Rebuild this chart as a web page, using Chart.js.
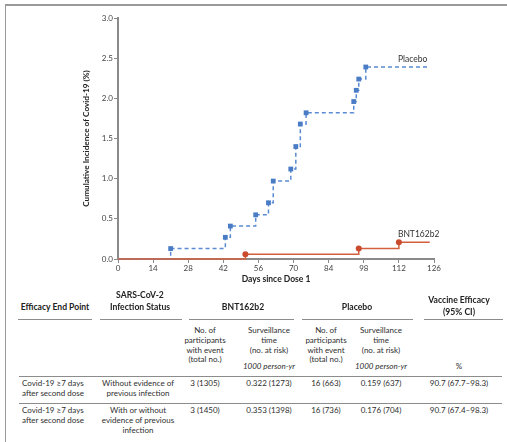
<!DOCTYPE html>
<html><head><meta charset="utf-8">
<script src="https://cdn.jsdelivr.net/npm/chart.js@4"></script>
<style>
body{margin:0;background:#fff;width:507px;height:442px;overflow:hidden;position:relative;font-family:Lato,"Open Sans",sans-serif;color:#2e2e2e}
#frame{position:absolute;left:5px;top:4px;right:0;bottom:-2px;border-top:2px solid #9a9a9a;border-left:1px solid #9a9a9a}
canvas{position:absolute;left:0;top:0}
.t{position:absolute;font-size:8px;line-height:9.8px;white-space:nowrap;text-align:center;transform:translateX(-50%)}
.l{transform:none;text-align:left}
.b{font-weight:bold;color:#222;font-size:8.6px;line-height:12px}
.i{font-style:italic}
.hl{position:absolute;height:1px;background:#8c8c8c}
</style></head><body>
<div id="frame"></div>
<canvas id="c" width="507" height="290"></canvas>
<div id="tbl"></div>
<script>
// ---- chart data ----
const placeboDays = [0, 21, 42.8, 44.8, 54.9, 60, 61.9, 68.9, 70.9, 72.7, 75, 94, 95, 96, 98.8, 124.3];
const placeboIncidence = [0, 0.13, 0.27, 0.41, 0.55, 0.70, 0.97, 1.12, 1.40, 1.68, 1.82, 1.96, 2.10, 2.24, 2.39, 2.39];
const bntDays = [0, 50.8, 96, 112, 124.3];
const bntIncidence = [0, 0.06, 0.13, 0.21, 0.21];
const xTickValues = [0, 14, 28, 42, 56, 70, 84, 98, 112, 126];
const yTickValues = [0, 0.5, 1.0, 1.5, 2.0, 2.5, 3.0];
const seriesNames = ['Placebo', 'BNT162b2'];
const labelDay = 112;

// ---- table data ----
const headCols = ['Efficacy End Point', 'SARS-CoV-2\nInfection Status'];
const groupHeads = ['BNT162b2', 'Placebo', 'Vaccine Efficacy\n(95% CI)'];
const subHeads = ['No. of\nparticipants\nwith event\n(total no.)', 'Surveillance\ntime\n(no. at risk)', 'No. of\nparticipants\nwith event\n(total no.)', 'Surveillance\ntime\n(no. at risk)'];
const unitRow = ['', '1000 person-yr', '', '1000 person-yr', '%'];
const endPoints = ['Covid-19 \u22657 days\nafter second dose', 'Covid-19 \u22657 days\nafter second dose'];
const statuses = ['Without evidence of\nprevious infection', 'With or without\nevidence of previous\ninfection'];
const bntEvents = ['3 (1305)', '3 (1450)'];
const bntTime = ['0.322 (1273)', '0.353 (1398)'];
const plaEvents = ['16 (663)', '16 (736)'];
const plaTime = ['0.159 (637)', '0.176 (704)'];
const efficacy = ['90.7 (67.7\u201398.3)', '90.7 (67.4\u201398.3)'];

const toPts = (xs, ys) => xs.map((x, i) => ({x, y: ys[i]}));
const radii = (n, r) => Array.from({length: n}, (_, i) => (i === 0 || i === n - 1) ? 0 : r);

const endLabels = {
  id: 'endLabels',
  afterDatasetsDraw(chart) {
    const ctx = chart.ctx, xs = chart.scales.x, ys = chart.scales.y;
    ctx.save();
    ctx.font = '8.5px Lato';
    ctx.fillStyle = '#333';
    ctx.textBaseline = 'middle';
    ctx.textAlign = 'left';
    chart.data.datasets.forEach(ds => {
      const last = ds.data[ds.data.length - 1];
      ctx.fillText(ds.label, xs.getPixelForValue(labelDay) - 1, ys.getPixelForValue(last.y) - 8);
    });
    ctx.restore();
  }
};

new Chart(document.getElementById('c'), {
  type: 'line',
  data: {
    datasets: [
      {label: seriesNames[0], data: toPts(placeboDays, placeboIncidence), stepped: 'before',
       borderColor: '#5a8bd2', borderWidth: 1.5, borderDash: [4, 3], backgroundColor: '#4a7cc6',
       pointStyle: 'rect', pointRadius: radii(placeboDays.length, 3.4), pointBorderWidth: 0,
       pointBackgroundColor: '#4a7cc6', clip: 6, order: 2},
      {label: seriesNames[1], data: toPts(bntDays, bntIncidence), stepped: 'before',
       borderColor: '#d2603f', borderWidth: 1.5, backgroundColor: '#c94a2d',
       pointStyle: 'circle', pointRadius: radii(bntDays.length, 3), pointBorderWidth: 0,
       pointBackgroundColor: '#c94a2d', clip: 6, order: 1}
    ]
  },
  options: {
    responsive: false, animation: false, devicePixelRatio: 1,
    layout: {padding: {left: 0, right: 73, top: 18, bottom: 0}},
    plugins: {legend: {display: false}, tooltip: {enabled: false}},
    scales: {
      x: {
        type: 'linear', min: 0, max: 126,
        afterBuildTicks: s => { s.ticks = xTickValues.map(v => ({value: v})); },
        afterFit: s => { s.height = 31; s.paddingLeft = 0; s.paddingRight = 0; },
        ticks: {font: {family: 'Lato', size: 8}, color: '#444', padding: 1, maxRotation: 0, autoSkip: false},
        grid: {drawOnChartArea: false, drawTicks: true, tickLength: 4, color: '#8a8a8a', lineWidth: 1},
        border: {display: true, color: '#8a8a8a', width: 2},
        title: {display: true, text: 'Days since Dose 1', font: {family: 'Lato', size: 8.5, weight: 'bold'}, color: '#222', padding: {top: 0, bottom: 6}}
      },
      y: {
        type: 'linear', min: 0, max: 3,
        afterBuildTicks: s => { s.ticks = yTickValues.map(v => ({value: v})); },
        afterFit: s => { s.width = 118; s.paddingTop = 0; s.paddingBottom = 0; },
        ticks: {font: {family: 'Lato', size: 8}, color: '#444', padding: 1, callback: v => v.toFixed(1)},
        grid: {drawOnChartArea: false, drawTicks: true, tickLength: 4, color: '#8a8a8a', lineWidth: 1},
        border: {display: true, color: '#8a8a8a', width: 2},
        title: {display: true, text: 'Cumulative Incidence of Covid-19 (%)', font: {family: '"Liberation Sans Narrow", Lato', size: 8.2, weight: 'bold'}, color: '#222', padding: {top: 81, bottom: 0}}
      }
    }
  },
  plugins: [endLabels]
});

// ---- table ----
const tbl = document.getElementById('tbl');
function txt(s, x, y, cls) {
  const d = document.createElement('div');
  d.className = 't ' + (cls || '');
  d.style.left = x + 'px'; d.style.top = y + 'px';
  d.innerHTML = s.split('\n').join('<br>');
  tbl.appendChild(d);
}
function line(x1, x2, y) {
  const d = document.createElement('div');
  d.className = 'hl';
  d.style.left = x1 + 'px'; d.style.width = (x2 - x1) + 'px'; d.style.top = y + 'px';
  tbl.appendChild(d);
}
const colX = [55, 140, 205, 269, 326, 381, 459];
txt(headCols[0], colX[0], 301, 'b');
txt(headCols[1], colX[1], 289, 'b');
txt(groupHeads[0], 243, 301, 'b');
txt(groupHeads[1], 357, 301, 'b');
txt(groupHeads[2], colX[6], 294, 'b');
[[18, 92], [100, 182], [189, 294], [302, 413], [424, 503]].forEach(s => line(s[0], s[1], 319));
subHeads.forEach((s, i) => txt(s, colX[2 + i], 326));
unitRow.forEach((s, i) => { if (s) txt(s, colX[2 + i], 362, s === '%' ? '' : 'i'); });
line(19, 502, 376);
const rowY = [379, 406];
rowY.forEach((y, r) => {
  txt(endPoints[r], 22, y, 'l');
  txt(statuses[r], 138, y);
  txt(bntEvents[r], colX[2], y);
  txt(bntTime[r], colX[3], y);
  txt(plaEvents[r], colX[4], y);
  txt(plaTime[r], colX[5], y);
  txt(efficacy[r], colX[6], y);
});
line(19, 502, 403);
</script>
</body></html>
